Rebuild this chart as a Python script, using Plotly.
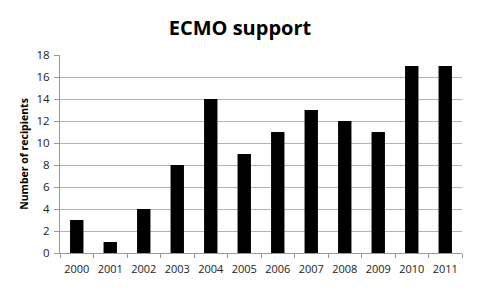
import plotly.graph_objects as go

years = ["2000", "2001", "2002", "2003", "2004", "2005", "2006", "2007", "2008", "2009", "2010", "2011"]
recipients = [3, 1, 4, 8, 14, 9, 11, 13, 12, 11, 17, 17]
y_ticks = [0, 2, 4, 6, 8, 10, 12, 14, 16, 18]

fig = go.Figure(go.Bar(x=years, y=recipients, marker=dict(color="black", line=dict(width=0))))

fig.update_layout(
    width=480, height=290,
    margin=dict(l=60, r=18, t=55, b=37),
    paper_bgcolor="white", plot_bgcolor="white",
    bargap=0.6,
    showlegend=False,
    title=dict(text="<b>ECMO support</b>", x=0.5, xanchor="center", y=0.905, yanchor="middle",
               font=dict(family="Open Sans", size=20, color="black")),
    font=dict(family="Open Sans", size=11, color="#222"),
)
fig.update_xaxes(
    type="category", tickson="boundaries", ticks="outside", ticklen=4, tickcolor="#999",
    showline=True, linecolor="#999", linewidth=1, showgrid=False, tickangle=0,
    tickfont=dict(size=11, color="#222"), automargin=False, ticklabelstandoff=6,
)
fig.update_yaxes(
    range=[0, 18], tickvals=y_ticks, ticks="outside", ticklen=5, tickcolor="#999",
    showline=True, linecolor="#999", linewidth=1,
    showgrid=True, gridcolor="#b4b4b4", gridwidth=1, zeroline=False,
    tickfont=dict(size=11.5, color="#222"), automargin=False, ticklabelstandoff=2,
    title=dict(text="<b>Number of recipients</b>", font=dict(size=10.5, color="black"), standoff=5),
)

fig.write_html("out.html")
